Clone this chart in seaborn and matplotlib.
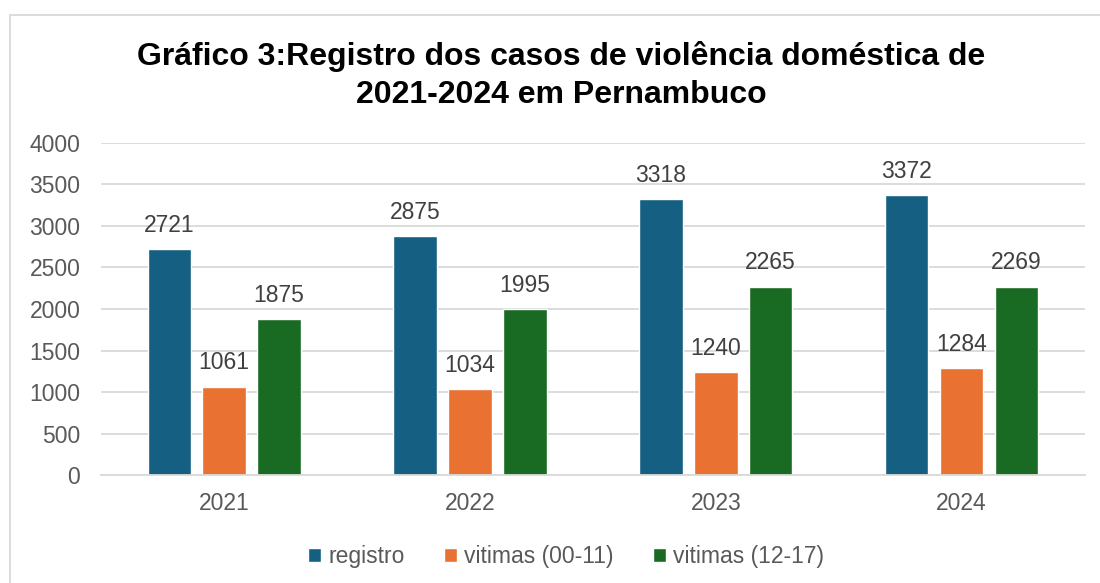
import pandas as pd
import matplotlib.pyplot as plt
import seaborn as sns
from matplotlib.patches import Rectangle

anos = ["2021", "2022", "2023", "2024"]
registro = [2721, 2875, 3318, 3372]
vitimas_00_11 = [1061, 1034, 1240, 1284]
vitimas_12_17 = [1875, 1995, 2265, 2269]
series = ["registro", "vitimas (00-11)", "vitimas (12-17)"]
cores = ["#156082", "#E97132", "#196B24"]

df = pd.DataFrame({
    "ano": anos * 3,
    "serie": [series[0]] * 4 + [series[1]] * 4 + [series[2]] * 4,
    "valor": registro + vitimas_00_11 + vitimas_12_17,
})

sns.set_style("white")
plt.rcParams['font.family'] = ['Liberation Sans', 'DejaVu Sans']

fig = plt.figure(figsize=(11, 5.83), dpi=100)
ax = fig.add_axes([0.092, 0.185, 0.894, 0.570])

sns.barplot(data=df, x="ano", y="valor", hue="serie", palette=cores,
            width=0.67, gap=0.21, ax=ax, saturation=1, legend=True)

for c in ax.containers:
    ax.bar_label(c, fmt="%d", padding=9, fontsize=16.5, color="#404040")

ax.set_ylim(0, 4000)
ax.set_yticks(range(0, 4001, 500))
ax.set_xlim(-0.5, 3.5)
ax.yaxis.grid(True, color="#D9D9D9", linewidth=1.3)
ax.set_axisbelow(True)
for s in ["left", "right", "top"]:
    ax.spines[s].set_visible(False)
ax.spines["bottom"].set_color("#D9D9D9")
ax.spines["bottom"].set_linewidth(1.3)
ax.tick_params(axis="both", length=0, labelsize=16.5, labelcolor="#595959")
ax.tick_params(axis="y", pad=15)
ax.tick_params(axis="x", pad=12)
ax.set_xlabel("")
ax.set_ylabel("")

fig.suptitle("Gráfico 3:Registro dos casos de violência doméstica de\n2021-2024 em Pernambuco",
             x=0.51, y=0.93, fontsize=23, fontweight="bold", color="black",
             linespacing=1.37)

ax.legend(loc="center", bbox_to_anchor=(0.4726, -0.245), ncol=3, frameon=False,
          fontsize=16.5, labelcolor="#595959", handlelength=0.6, handleheight=0.6,
          handletextpad=0.3, columnspacing=1.7)

fig.patches.append(Rectangle((10 / 1100, -0.1), 1.2, 1 - 15 / 583 + 0.1,
                             transform=fig.transFigure, fill=False,
                             edgecolor="#D9D9D9", linewidth=1.3))

fig.savefig("out.png", dpi=100)
